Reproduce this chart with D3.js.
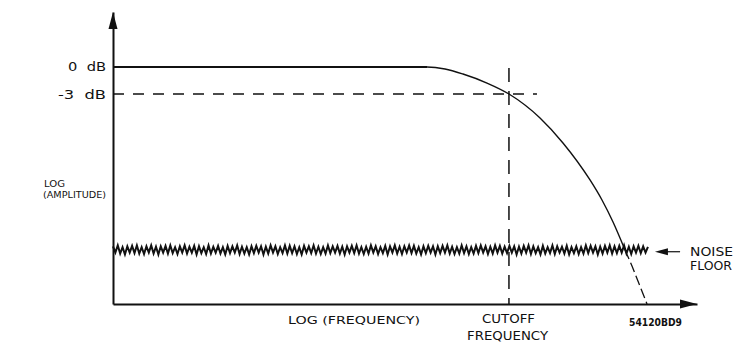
<!DOCTYPE html>
<html>
<head>
<meta charset="utf-8">
<script src="https://cdn.jsdelivr.net/npm/d3@7"></script>
<style>
  html, body { margin: 0; padding: 0; background: #fff; }
  svg { display: block; }
  text { font-family: "DejaVu Sans", "Liberation Sans", sans-serif; fill: #111; white-space: pre; }
</style>
</head>
<body>
<svg id="chart" width="734" height="342"></svg>
<script>
// ---- data (log frequency in arbitrary units 0..100, amplitude in dB) ----
const xDomain = [0, 100];
const yDomain = [-26.3, 6.1];
const levelLabels = ["0  dB", "-3  dB"];
const levelValues = [0, -3];
const cutoffFreq = 67.8;
const responseFreq = [0, 53.77, 56.85, 59.93, 64.04, 67.81, 73.12, 77.05, 81.68, 83.73, 85.62, 87.67];
const responseAmp  = [0, 0, -0.22, -0.78, -1.78, -3.0, -5.66, -8.43, -12.54, -14.76, -17.2, -20.3];
const tailFreq = [87.67, 88.87, 91.44];
const tailAmp  = [-20.3, -22.08, -26.3];
const noiseLevel = -20.3;
const noiseStart = 0, noiseEnd = 91.6;
const noiseRipple = [
  .4,-.3,.5,-.4,.3,-.5,.4,-.3,.45,-.35,.5,-.4,.3,-.45,.4,
  -.3,.5,-.4,.35,-.5,.4,-.3,.45,-.4,.5,-.35,.3,-.45,.4,-.3,
  .5,-.4,.35,-.3,.45,-.5,.4,-.35,.3,-.45,.5,-.4,.35,-.3,.45,
  -.4,.3,-.5,.45,-.35,.4,-.3,.5,-.45,.35,-.4,.3,-.5,.4,-.35,
  .45,-.3,.4,-.5,.35,-.4,.5,-.3,.4,-.45,.3,-.35,.5,-.4,.45,
  -.35,.4,-.45,.3,-.5,.45,-.3,.4,-.35,.5,-.4,.35,-.45,.3,-.4,
  .5,-.35,.4,-.3,.45,-.4,.35,-.5,.4,-.3,.45,-.35,.5,-.4,.3,
  -.45,.35,-.4,.5,-.3,.4,-.45,.3,-.35,.45,-.5,.4,-.3,.5,-.4,
  .35,-.45,.4,-.3,.5,-.35,.45,-.4,.3,-.5,.4,-.35,.45,-.3,.4,
  -.5,.4,-.35,.45,-.3,.5,-.4,.35,-.45,.3,-.4,.5,-.35,.4,-.45,
  .3,-.4,.45,-.35,.5,-.3,.4,-.45,.35,-.4,.5,-.3,.45,-.4,.35,
  -.35,.45,-.3,.4,-.5,.35,-.4,.45,-.3,.5,-.45,.4,-.35,.3,-.5,
  .45,-.4,.3,-.35,.5,-.45,.4,-.3,.35,-.4,.45,-.5,.3,-.35,.4,
  -.45,.3,-.4,.5,-.35,.45,-.3,.4,-.5,.35,-.4,.45,-.3,.5,-.4,
  .4,-.35,.45,-.3,.5,-.4,.35,-.45,.4,-.3,.45,-.35,.4,-.3,.35
];
const noiseArrow = [92.8, 97.1];
const noiseArrowLevel = -20.5;

// ---- scales ----
const svg = d3.select("#chart");
const x = d3.scaleLinear().domain(xDomain).range([113, 697]);
const y = d3.scaleLinear().domain(yDomain).range([304, 12]);
const ink = "#111";

// axes (no ticks, just the domain lines)
svg.append("g").attr("transform", `translate(0,${y(yDomain[0])})`)
  .call(d3.axisBottom(x).tickValues([]).tickSizeOuter(0))
  .call(g => g.select(".domain").attr("stroke", ink).attr("stroke-width", 2));
svg.append("g").attr("transform", `translate(${x(xDomain[0])},0)`)
  .call(d3.axisLeft(y).tickValues([]).tickSizeOuter(0))
  .call(g => g.select(".domain").attr("stroke", ink).attr("stroke-width", 2));

// arrow heads
const x0 = x(xDomain[0]), y0 = y(yDomain[0]);
svg.append("path")
  .attr("d", `M${x0},${y(yDomain[1])} L${x0 - 4.5},${y(yDomain[1]) + 17} L${x0 + 4.5},${y(yDomain[1]) + 17} Z`)
  .attr("fill", ink);
svg.append("path")
  .attr("d", `M${x(xDomain[1])},${y0} L${x(xDomain[1]) - 17},${y0 - 4.5} L${x(xDomain[1]) - 17},${y0 + 4.5} Z`)
  .attr("fill", ink);

// -3 dB dashed reference
svg.append("line")
  .attr("x1", x0).attr("x2", x(72.6))
  .attr("y1", y(-3)).attr("y2", y(-3))
  .attr("stroke", ink).attr("stroke-width", 1.6).attr("stroke-dasharray", "11,9");

// cutoff vertical dashed line
svg.append("line")
  .attr("x1", x(cutoffFreq)).attr("x2", x(cutoffFreq))
  .attr("y1", y(0) + 1).attr("y2", y0)
  .attr("stroke", ink).attr("stroke-width", 1.5).attr("stroke-dasharray", "14,9");

// noise floor
const noiseStep = (noiseEnd - noiseStart) / (noiseRipple.length - 1);
const noiseLine = d3.line()
  .x((d, i) => x(noiseStart + i * noiseStep))
  .y(d => y(noiseLevel + d));
svg.append("path").datum(noiseRipple)
  .attr("d", noiseLine)
  .attr("fill", "none").attr("stroke", ink).attr("stroke-width", 2);

// response curve
const respLine = d3.line().x(d => x(d[0])).y(d => y(d[1])).curve(d3.curveMonotoneX);
svg.append("path").datum(responseFreq.map((f, i) => [f, responseAmp[i]]))
  .attr("d", respLine).attr("fill", "none").attr("stroke", ink).attr("stroke-width", 1.4);
// thicker flat passband
svg.append("line")
  .attr("x1", x0).attr("x2", x(responseFreq[1]))
  .attr("y1", y(0)).attr("y2", y(0))
  .attr("stroke", ink).attr("stroke-width", 2);
// dashed tail below the noise floor
const tailLine = d3.line().x(d => x(d[0])).y(d => y(d[1])).curve(d3.curveLinear);
svg.append("path").datum(tailFreq.map((f, i) => [f, tailAmp[i]]))
  .attr("d", tailLine).attr("fill", "none").attr("stroke", ink)
  .attr("stroke-width", 1.3).attr("stroke-dasharray", "10,4");

// noise arrow
const ay = y(noiseArrowLevel);
svg.append("line")
  .attr("x1", x(noiseArrow[0]) + 8).attr("x2", x(noiseArrow[1]))
  .attr("y1", ay).attr("y2", ay).attr("stroke", ink).attr("stroke-width", 1.2);
svg.append("path")
  .attr("d", `M${x(noiseArrow[0])},${ay} L${x(noiseArrow[0]) + 13},${ay - 3.5} L${x(noiseArrow[0]) + 13},${ay + 3.5} Z`)
  .attr("fill", ink);

// ---- labels ----
function label(txt, x1, x2, base, size, extra) {
  const t = svg.append("text")
    .attr("x", x1).attr("y", base)
    .attr("font-size", size)
    .attr("textLength", x2 - x1).attr("lengthAdjust", "spacingAndGlyphs")
    .text(txt);
  if (extra) extra(t);
  return t;
}
levelValues.forEach((v, i) => {
  const left = i === 0 ? 68 : 58;
  label(levelLabels[i], left, 106, y(v) + 4.5, 12);
});
label("LOG", 44, 65, 187, 9);
label("(AMPLITUDE)", 43, 106, 198, 9);
label("LOG (FREQUENCY)", 288, 420, 324, 11);
label("CUTOFF", 482, 535, 323, 12);
label("FREQUENCY", 467, 548, 340, 12);
label("NOISE", 690, 733, 256, 12);
label("FLOOR", 690, 732, 270, 12);
label("54120BD9", 629, 682, 326, 10, t => t.attr("font-weight", "bold"));
</script>
</body>
</html>
